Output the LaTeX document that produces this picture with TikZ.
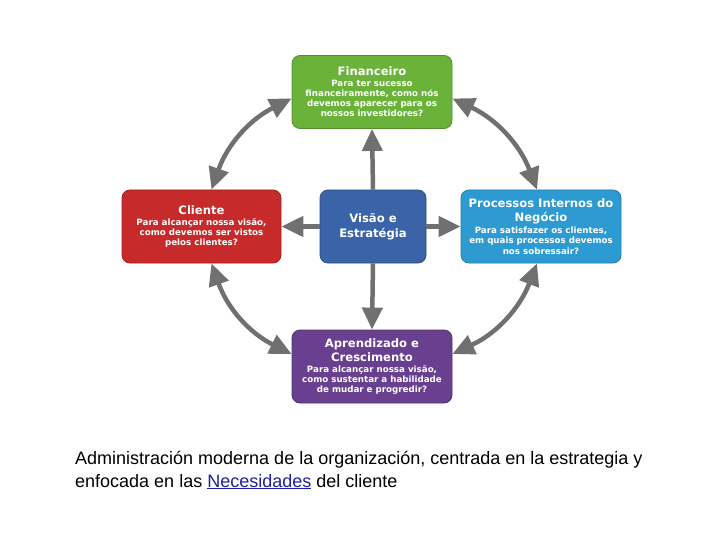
\documentclass[tikz,border=0pt]{standalone}
\usepackage{fontspec}
\setmainfont{Liberation Sans}
\newfontfamily\boxfont{DejaVu Sans}
\usetikzlibrary{arrows.meta}
\definecolor{cgreen}{HTML}{6AB23A}
\definecolor{cred}{HTML}{C62A2A}
\definecolor{cblue}{HTML}{3B64A8}
\definecolor{ccyan}{HTML}{2D9BD2}
\definecolor{cpurple}{HTML}{68408F}
\definecolor{carrow}{HTML}{707070}
\definecolor{clink}{HTML}{1F1FA0}
\newcommand{\ttl}{\boxfont\bfseries\fontsize{11.6}{10.1}\selectfont}
\newcommand{\bdy}{\boxfont\bfseries\fontsize{8.7}{10.1}\selectfont\lineskiplimit=-100pt\lineskip=0pt}
\tikzset{
  box/.style={rounded corners=8pt, minimum width=160pt, minimum height=73pt,
    inner sep=0pt, text=white, align=center, draw=#1!80!black, line width=0.8pt, fill=#1, font=\bdy},
  arr/.style={carrow, line width=4.5pt, -{Triangle[length=22pt,width=20pt]}},
  darr/.style={carrow, line width=4.5pt, {Triangle[length=22pt,width=20pt]}-{Triangle[length=22pt,width=20pt]}},
}
\begin{document}
\begin{tikzpicture}[x=1pt,y=-1pt]
\useasboundingbox (0,0) rectangle (720,540);
\node[box=cgreen] (fin) at (372,92) {\ttl Financeiro\\[0.8pt]Para ter sucesso\\financeiramente, como nós\\devemos aparecer para os\\nossos investidores?};
\node[box=cred, minimum width=159pt] (cli) at (201.5,226.5) {\ttl Cliente\\[1.5pt]Para alcançar nossa visão,\\como devemos ser vistos\\pelos clientes?};
\node[box=cblue, minimum width=106pt] (vis) at (373,226.5) {\ttl Visão e\\[5pt]\ttl Estratégia};
\node[box=ccyan] (pro) at (541,226.5) {\ttl Processos Internos do\\[4pt]\ttl Negócio\\[2pt]Para satisfazer os clientes,\\em quais processos devemos\\nos sobressair?};
\node[box=cpurple] (apr) at (372,366.5) {\ttl Aprendizado e\\[4pt]\ttl Crescimento\\[1.2pt]Para alcançar nossa visão,\\como sustentar a habilidade\\de mudar e progredir?};
\draw[arr] (vis.north) -- (fin.south);
\draw[arr] (vis.west) -- (cli.east);
\draw[arr] (vis.east) -- (pro.west);
\draw[arr] (vis.south) -- (apr.north);
\draw[darr] ([xshift=10pt]cli.north) to[bend left=22] ([yshift=-6.5pt]fin.west);
\draw[darr] ([yshift=-6.5pt]fin.east) to[bend left=22] ([xshift=-4pt]pro.north);
\draw[darr] ([xshift=-4pt]pro.south) to[bend left=22] ([yshift=12.5pt]apr.east);
\draw[darr] ([yshift=12.5pt]apr.west) to[bend left=22] ([xshift=10pt]cli.south);
\node[anchor=base west, align=left, inner sep=0pt, font=\fontsize{18}{23}\selectfont] (cap) at (75,487)
  {Administración moderna de la organización, centrada en la estrategia y\\enfocada en las {\color{clink}\underline{Necesidades}} del cliente};
\end{tikzpicture}
\end{document}
